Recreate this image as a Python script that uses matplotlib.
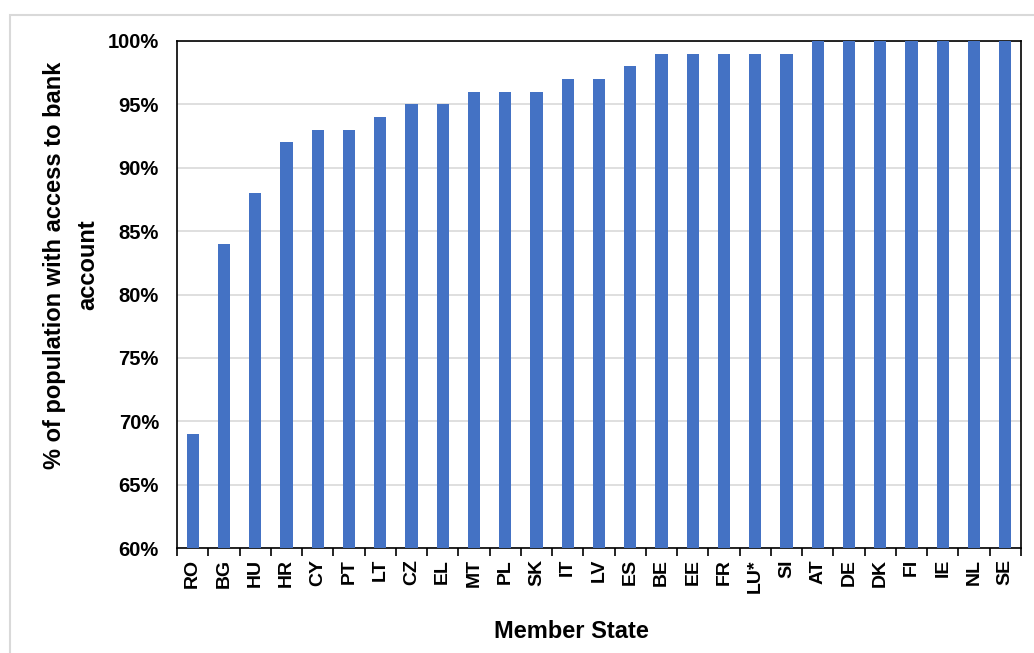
import matplotlib.pyplot as plt
from matplotlib.patches import Rectangle
import numpy as np

plt.rcParams['font.family'] = ['Liberation Sans', 'DejaVu Sans']

states = ["RO", "BG", "HU", "HR", "CY", "PT", "LT", "CZ", "EL", "MT", "PL", "SK", "IT", "LV",
          "ES", "BE", "EE", "FR", "LU*", "SI", "AT", "DE", "DK", "FI", "IE", "NL", "SE"]
values = [69, 84, 88, 92, 93, 93, 94, 95, 95, 96, 96, 96, 97, 97,
          98, 99, 99, 99, 99, 99, 100, 100, 100, 100, 100, 100, 100]
yticks = [60, 65, 70, 75, 80, 85, 90, 95, 100]

fig = plt.figure(figsize=(10.34, 6.53), dpi=100)
fig.patches.append(Rectangle((10/1034, -0.1), 1.2, 1 - 15/653 + 0.1, transform=fig.transFigure,
                             fill=False, edgecolor='#d9d9d9', linewidth=1.5))
ax = fig.add_axes([177/1034, 1 - 548/653, (1021 - 177)/1034, (548 - 41)/653])

x = np.arange(len(states))
ax.bar(x, values, width=0.39, color='#4472C4', zorder=3)
ax.set_xlim(-0.5, len(states) - 0.5)
ax.set_ylim(60, 100)
ax.set_yticks(yticks)
ax.set_yticklabels([f"{v}%" for v in yticks], fontsize=14.5, fontweight='bold')
ax.yaxis.grid(True, color='#d9d9d9', linewidth=1.2, zorder=0)
ax.tick_params(axis='y', length=0, pad=13)

ax.set_xticks(x)
ax.set_xticklabels(states, rotation=90, fontsize=14, fontweight='bold')
ax.set_xticks(np.arange(len(states) + 1) - 0.5, minor=True)
ax.tick_params(axis='x', which='major', length=0, pad=8)
ax.tick_params(axis='x', which='minor', length=6, width=1.2, direction='out')

for s in ax.spines.values():
    s.set_color('black')
    s.set_linewidth(1.2)

ax.set_ylabel("% of population with access to bank\naccount", fontsize=17, fontweight='bold',
              linespacing=1.55)
ax.yaxis.set_label_coords(-0.092, 0.558)
ax.set_xlabel("Member State", fontsize=17, fontweight='bold')
ax.xaxis.set_label_coords(0.467, -0.142)

fig.savefig("out.png", dpi=100)
